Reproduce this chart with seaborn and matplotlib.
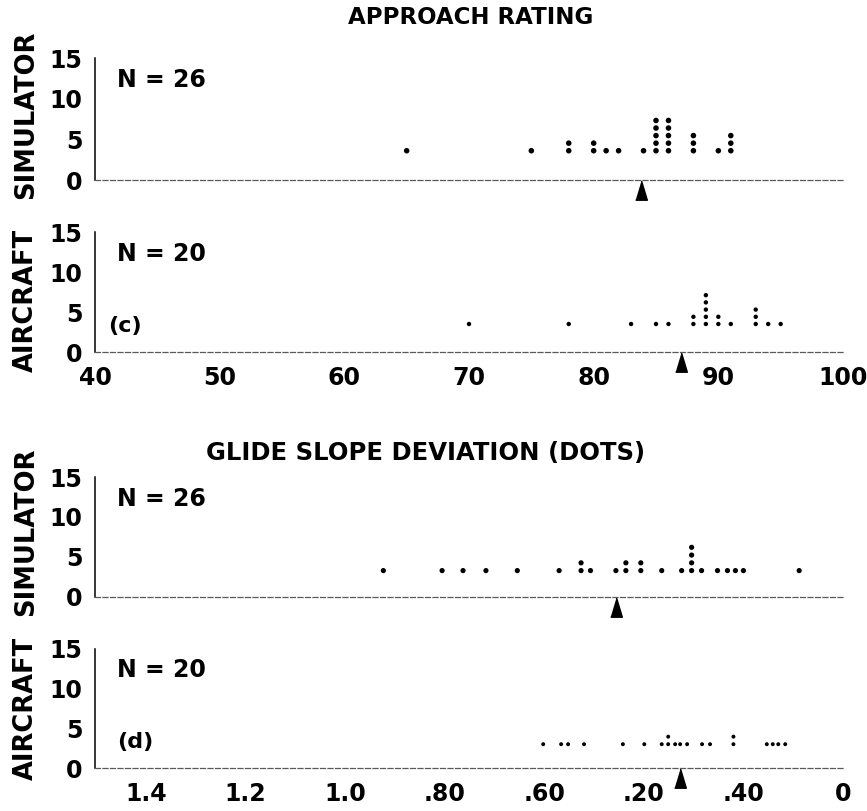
import numpy as np
import pandas as pd
import matplotlib
matplotlib.use("Agg")
import matplotlib.pyplot as plt
from matplotlib.transforms import ScaledTranslation
import seaborn as sns

# ---------------- data ----------------
approach_sim = [65, 75, 78, 78, 80, 80, 81, 82, 84,
                85, 85, 85, 85, 85, 86, 86, 86, 86, 86,
                88, 88, 88, 90, 91, 91, 91]
approach_air = [70, 78, 83, 85, 86, 88, 88, 89, 89, 89, 89, 89,
                90, 90, 91, 93, 93, 93, 94, 95]
glide_sim = [0.923, 0.805, 0.763, 0.717, 0.654, 0.570, 0.526, 0.526, 0.507,
             0.456, 0.436, 0.436, 0.406, 0.406, 0.364, 0.324,
             0.304, 0.304, 0.304, 0.304, 0.284, 0.252, 0.232, 0.216, 0.200, 0.088]
glide_air = [0.602, 0.566, 0.552, 0.520, 0.442, 0.399, 0.364, 0.351, 0.351,
             0.337, 0.327, 0.313, 0.283, 0.267, 0.220, 0.220,
             0.153, 0.141, 0.130, 0.116]
means = [83.8, 87.0, 0.455, 0.327]
n_labels = ["N = 26", "N = 20", "N = 26", "N = 20"]
panel_tags = [None, "(c)", None, "(d)"]
row_labels = ["SIMULATOR", "AIRCRAFT", "SIMULATOR", "AIRCRAFT"]
titles = ["APPROACH RATING", "GLIDE SLOPE DEVIATION (DOTS)"]
approach_ticks = [40, 50, 60, 70, 80, 90, 100]
approach_ticklabels = ["40", "50", "60", "70", "80", "90", "100"]
glide_ticks = [1.4, 1.2, 1.0, 0.8, 0.6, 0.4, 0.2, 0.0]
glide_ticklabels = ["1.4", "1.2", "1.0", ".80", ".60", ".20", ".40", "0"]
y_ticks = [0, 5, 10, 15]

# ---------------- style ----------------
sns.set_style("white")
plt.rcParams["font.family"] = ["DejaVu Sans"]
plt.rcParams["font.weight"] = "bold"
plt.rcParams["text.color"] = "black"
plt.rcParams["axes.labelcolor"] = "black"
plt.rcParams["xtick.color"] = "black"
plt.rcParams["ytick.color"] = "black"

W, H = 867, 811
fig = plt.figure(figsize=(W / 100, H / 100), dpi=100)

def frac_rect(top_px, bottom_px, left_px=95, right_px=843):
    return [left_px / W, 1 - bottom_px / H, (right_px - left_px) / W,
            (bottom_px - top_px) / H]

panels = [
    dict(data=approach_sim, rect=frac_rect(58, 180), xlim=(40, 100), base=3.6,
         step=0.93, size=16, xt=False),
    dict(data=approach_air, rect=frac_rect(232, 352), xlim=(40, 100), base=3.5,
         step=0.9, size=10, xt=True, ticks=approach_ticks, labels=approach_ticklabels),
    dict(data=glide_sim, rect=frac_rect(477, 597), xlim=(1.502, 0), base=3.3,
         step=0.97, size=14, xt=False),
    dict(data=glide_air, rect=frac_rect(649, 768), xlim=(1.502, 0), base=3.0,
         step=0.95, size=8, xt=True, ticks=glide_ticks, labels=glide_ticklabels),
]

tri = [(-0.3, -0.5), (0.3, -0.5), (0.0, 0.5)]

for i, p in enumerate(panels):
    ax = fig.add_axes(p["rect"])
    df = pd.DataFrame({"x": p["data"]})
    df["k"] = df.groupby("x").cumcount()
    df["y"] = p["base"] + df["k"] * p["step"]
    sns.scatterplot(data=df, x="x", y="y", ax=ax, color="black", s=p["size"],
                    edgecolor="none", linewidth=0, legend=False)
    ax.set_xlim(*p["xlim"])
    ax.set_ylim(0, 15)
    ax.set_xlabel("")
    ax.set_ylabel("")
    for s in ["top", "right"]:
        ax.spines[s].set_visible(False)
    ax.spines["left"].set_color("black")
    ax.spines["left"].set_linewidth(1.1)
    ax.spines["bottom"].set_color("0.35")
    ax.spines["bottom"].set_linewidth(0.9)
    ax.spines["bottom"].set_linestyle((0, (4, 2)))
    ax.set_yticks(y_ticks)
    ax.set_yticklabels([str(v) for v in y_ticks], fontsize=17, fontweight="bold",
                       color="black")
    ax.tick_params(axis="y", direction="in", length=4, width=0.8, pad=9, colors="black")
    if p["xt"]:
        ax.set_xticks(p["ticks"])
        ax.set_xticklabels(p["labels"], fontsize=17, fontweight="bold", color="black")
        ax.tick_params(axis="x", direction="in", length=6, width=1.2, pad=10, colors="black")
    else:
        ax.set_xticks([])
    # mean arrow below the axis
    off = ScaledTranslation(0, -9.5 / 100, fig.dpi_scale_trans)
    ax.plot([means[i]], [0], marker=tri, ms=14, color="black", linestyle="none",
            transform=ax.transData + off, clip_on=False)
    ax.text(0.03, 0.82, n_labels[i], transform=ax.transAxes, fontsize=17,
            fontweight="bold", ha="left", va="center", color="black")
    if panel_tags[i]:
        ax.text(0.018 if i == 1 else 0.03, 0.22, panel_tags[i], transform=ax.transAxes,
                fontsize=16, fontweight="bold", ha="left", va="center", color="black")

# row labels (rotated)
row_centers = [115, 300, 532, 708]
for lab, yc in zip(row_labels, row_centers):
    fig.text(26 / W, 1 - yc / H, lab, rotation=90, fontsize=18.5, fontweight="bold",
             ha="center", va="center", color="black")

fig.text(471 / W, 1 - 18 / H, titles[0], fontsize=16.5, fontweight="bold",
         ha="center", va="center", color="black")
fig.text(426 / W, 1 - 453 / H, titles[1], fontsize=17.5, fontweight="bold",
         ha="center", va="center", color="black")

fig.savefig("out.png", dpi=100)
